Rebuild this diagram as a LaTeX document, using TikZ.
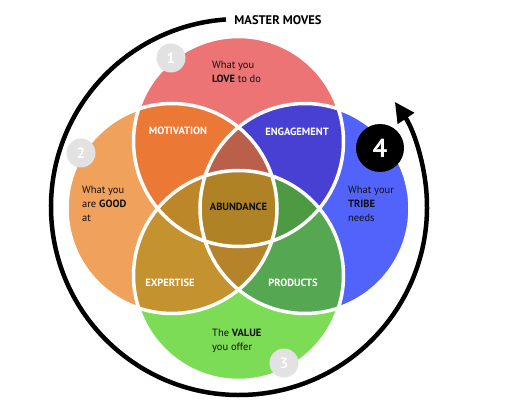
\documentclass[tikz,border=0pt]{standalone}
\usepackage{fontspec}
\setmainfont{PT Sans}
\usetikzlibrary{arrows.meta}
\definecolor{cT}{HTML}{EC7474}
\definecolor{cL}{HTML}{F0A15B}
\definecolor{cR}{HTML}{5263FB}
\definecolor{cB}{HTML}{7DDC55}
\definecolor{cTL}{HTML}{EC7835}
\definecolor{cTR}{HTML}{4840D2}
\definecolor{cLB}{HTML}{C4922E}
\definecolor{cRB}{HTML}{55A851}
\definecolor{cTLR}{HTML}{BA604A}
\definecolor{cTLB}{HTML}{BC8728}
\definecolor{cTRB}{HTML}{4E9A42}
\definecolor{cLRB}{HTML}{B5842A}
\definecolor{cC}{HTML}{B08226}
\definecolor{numgray}{HTML}{E2E2E2}
\definecolor{txt}{HTML}{111111}
\def\cT{(238.5,141.5) circle[radius=105]}
\def\cL{(172,208.5) circle[radius=105]}
\def\cR{(305,208.5) circle[radius=105]}
\def\cB{(238.5,275.5) circle[radius=105]}
\tikzset{
  lbl/.style={text=white, font=\bfseries\fontsize{10.5}{12}\selectfont, inner sep=0},
  centerlbl/.style={text=txt, font=\bfseries\fontsize{10.5}{12}\selectfont, inner sep=0},
  body/.style={text=txt, font=\fontsize{10.5}{14}\selectfont, align=left, anchor=north west, inner sep=0},
  numc/.style={circle, fill=numgray, minimum size=29pt, inner sep=0, text=white, font=\bfseries\fontsize{15}{15}\selectfont},
  numbig/.style={circle, fill=black, minimum size=48pt, inner sep=0, text=white, font=\bfseries\fontsize{26}{26}\selectfont},
  ring/.style={line width=4.5pt, -{Triangle[length=20pt,width=19pt]}}
}
\begin{document}
\begin{tikzpicture}[x=1pt,y=-1pt]
\useasboundingbox (0,0) rectangle (525,409);
\fill[white] (0,0) rectangle (525,409);
% singles
\fill[cT] \cT; \fill[cL] \cL; \fill[cR] \cR; \fill[cB] \cB;
% pairs
\begin{scope}\clip \cT; \fill[cTL] \cL; \fill[cTR] \cR; \end{scope}
\begin{scope}\clip \cB; \fill[cLB] \cL; \fill[cRB] \cR; \end{scope}
% triples
\begin{scope}\clip \cT; \clip \cL; \fill[cTLR] \cR; \fill[cTLB] \cB; \end{scope}
\begin{scope}\clip \cB; \clip \cR; \fill[cTRB] \cT; \fill[cLRB] \cL; \end{scope}
% quadruple
\begin{scope}\clip \cT; \clip \cL; \clip \cR; \fill[cC] \cB; \end{scope}
% outlines
\draw[white, line width=3.5pt] \cT \cL \cR \cB;
% ring
\coordinate (O) at (239,207);
\draw[ring] (O) ++(-94:188) arc[start angle=-94, end angle=-394, radius=188];
\node[font=\bfseries\fontsize{12.5}{14}\selectfont, text=black, inner sep=0] (title) at (278,20) {MASTER MOVES};
% number badges
\node[numc] (n1) at (171,58) {1};
\node[numc] (n2) at (81,153) {2};
\node[numc] (n3) at (284,363) {3};
\node[numbig] (n4) at (380,148) {4};
% body texts
\node[body] (love) at (212,61) {What you\\\textbf{LOVE} to do};
\node[body] (good) at (82,186) {What you\\are \textbf{GOOD}\\at};
\node[body] (tribe) at (348,186) {What your\\\textbf{TRIBE}\\needs};
\node[body] (value) at (212,329) {The \textbf{VALUE}\\you offer};
% region labels
\node[lbl] (mot) at (178,131) {MOTIVATION};
\node[lbl] (eng) at (297,132) {ENGAGEMENT};
\node[centerlbl] (abu) at (238.5,207) {ABUNDANCE};
\node[lbl] (exp) at (170,283) {EXPERTISE};
\node[lbl] (prod) at (293,283) {PRODUCTS};
\end{tikzpicture}
\end{document}
